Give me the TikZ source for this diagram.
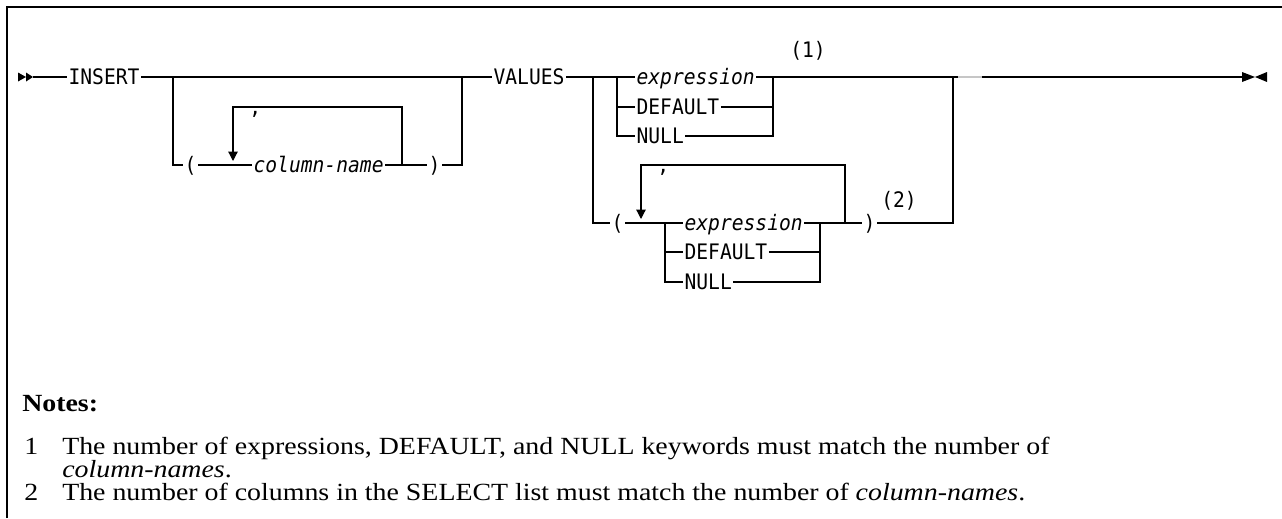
\documentclass[tikz,border=0pt]{standalone}
\usepackage{fontspec}
\setmainfont{Liberation Serif}[FakeStretch=1.13]
\setmonofont{DejaVu Sans Mono}[FakeStretch=0.92]
\usetikzlibrary{arrows.meta}
\newcommand\kwfont{\ttfamily\fontsize{16}{19}\selectfont}
\newcommand\varfont{\ttfamily\itshape\fontsize{16}{19}\selectfont}
\newcommand\notefont{\rmfamily\fontsize{18.5}{22}\selectfont}
\tikzset{
  rail/.style    ={draw=black,line width=.9pt},
  kw/.style      ={font=\kwfont,inner sep=0pt,inner xsep=1pt,text height=11.6pt,
                   text depth=0pt,anchor=west},
  var/.style     ={kw,font=\varfont},
  sepch/.style   ={font=\kwfont,inner sep=0pt,anchor=base west},
  loopback/.style={rail,-{Triangle[length=7pt,width=7pt]}},
  note/.style    ={font=\notefont,inner sep=0pt,anchor=base west},
  frame/.style   ={draw=black,line width=1.4pt},
}
\begin{document}
\begin{tikzpicture}[x=0.75pt,y=-0.75pt]
  \useasboundingbox (0,0) rectangle (1282,518);
  \draw[frame] (7,518) -- (7,7) -- (1282,7);

  % start and end marks
  \coordinate (start) at (33,77);
  \coordinate (stop) at (1242,77);
  \fill (18,72.5) -- (26,77) -- (18,81.5) -- cycle;
  \fill (26,72.5) -- (start) -- (26,81.5) -- cycle;
  \fill (1242,72) -- (1255,77) -- (1242,82) -- cycle;
  \fill (1267,72) -- (1255,77) -- (1267,82) -- cycle;

  % INSERT ( column-name, ... )
  \node[kw] (insert) at (67,77) {INSERT};
  \node[kw] (lp1) at (183,165) {(};
  \node[var] (colname) at (252,165) {column-name};
  \node[kw] (rp1) at (427,165) {)};
  \node[sepch] (comma1) at (249,114) {,};
  \coordinate (b1l) at (173,77);  \coordinate (b1r) at (462,77);
  \coordinate (l1l) at (233,165); \coordinate (l1r) at (402,165);
  \coordinate (l1top) at (233,107); \coordinate (l1tip) at (233,161);

  % VALUES
  \node[kw] (values) at (492,77) {VALUES};
  \node[var] (expr1) at (635,77) {expression};
  \node[kw] (dflt1) at (635,107) {DEFAULT};
  \node[kw] (null1) at (635,136) {NULL};
  \node[kw,anchor=center] (fn1) at (808,50) {(1)};
  \coordinate (b2l) at (593,77); \coordinate (g1l) at (617,77);
  \coordinate (g1r) at (773,77); \coordinate (b2r) at (953,77);

  \node[kw] (lp2) at (610,223) {(};
  \node[sepch] (comma2) at (657,172) {,};
  \node[var] (expr2) at (683,223) {expression};
  \node[kw] (dflt2) at (683,252) {DEFAULT};
  \node[kw] (null2) at (683,282) {NULL};
  \node[kw] (rp2) at (862,223) {)};
  \node[kw,anchor=center] (fn2) at (899,200) {(2)};
  \coordinate (l2l) at (641,223); \coordinate (g2l) at (665,223);
  \coordinate (g2r) at (820,223); \coordinate (l2r) at (845,223);
  \coordinate (l2top) at (641,165); \coordinate (l2tip) at (641,219);

  % rails
  \draw[rail] (start) -- (insert.west);
  \draw[rail] (insert.east) -- (b1r) -- (values.west);
  \draw[rail] (b1l) |- (lp1.west);
  \draw[rail] (lp1.east) -- (colname.west);
  \draw[rail] (colname.east) -- (rp1.west);
  \draw[rail] (rp1.east) -| (b1r);
  \draw[loopback] (l1r) |- (l1top) -- (l1tip);

  \draw[rail] (values.east) -- (g1l) -- (expr1.west);
  \draw[rail] (g1l) |- (null1.west);
  \draw[rail] (g1l |- dflt1.west) -- (dflt1.west);
  \draw[rail] (expr1.east) -- (b2r) -- (stop);
  \draw[rail] (null1.east) -| (g1r);
  \draw[rail] (dflt1.east) -- (g1r |- dflt1.east);
  \draw[gray!45,line width=1.5pt] (958,77) -- (982,77);

  \draw[rail] (b2l) |- (lp2.west);
  \draw[rail] (lp2.east) -- (g2l) -- (expr2.west);
  \draw[rail] (g2l) |- (null2.west);
  \draw[rail] (g2l |- dflt2.west) -- (dflt2.west);
  \draw[rail] (expr2.east) -- (rp2.west);
  \draw[rail] (null2.east) -| (g2r);
  \draw[rail] (dflt2.east) -- (g2r |- dflt2.east);
  \draw[rail] (rp2.east) -| (b2r);
  \draw[loopback] (l2r) |- (l2top) -- (l2tip);

  % notes
  \node[note,font=\notefont\bfseries] (notes) at (22,411) {Notes:};
  \node[note] (n1num) at (24,454) {1};
  \node[note] (n1) at (62,454)
        {The number of expressions, DEFAULT, and NULL keywords must match the number of};
  \node[note] (n1b) at (62,477) {\textit{column-names}.};
  \node[note] (n2num) at (24,500) {2};
  \node[note] (n2) at (62,500)
        {The number of columns in the SELECT list must match the number of \textit{column-names}.};
\end{tikzpicture}
\end{document}
